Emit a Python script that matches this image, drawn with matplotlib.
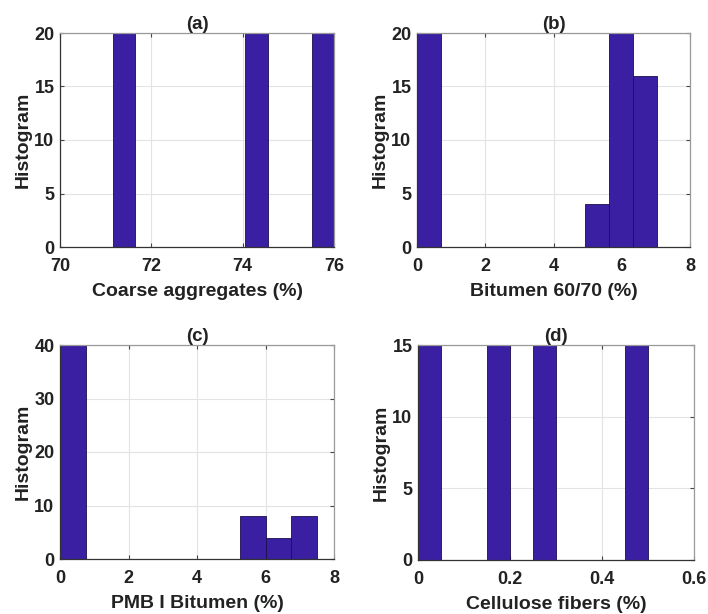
import numpy as np
import matplotlib
matplotlib.use("Agg")
import matplotlib.pyplot as plt

plt.rcParams['font.family'] = ['Liberation Sans', 'DejaVu Sans']
plt.rcParams['font.weight'] = 'bold'

# histogram bins: (first edge, bin width), counts per bin (10 bins each)
coarse_start, coarse_width = 71.17, 0.482
coarse_counts = [20, 0, 0, 0, 0, 0, 20, 0, 0, 20]

bit6070_start, bit6070_width = 0.0, 0.702
bit6070_counts = [20, 0, 0, 0, 0, 0, 0, 4, 20, 16]

pmb_start, pmb_width = 0.0, 0.75
pmb_counts = [40, 0, 0, 0, 0, 0, 0, 8, 4, 8]

cell_start, cell_width = 0.0, 0.05
cell_counts = [15, 0, 0, 15, 0, 15, 0, 0, 0, 15]

panels = [
    ('(a)', 'Coarse aggregates (%)', coarse_start, coarse_width, coarse_counts,
     (70, 76), [70, 72, 74, 76], ['70', '72', '74', '76'], (0, 20), [0, 5, 10, 15, 20]),
    ('(b)', 'Bitumen 60/70 (%)', bit6070_start, bit6070_width, bit6070_counts,
     (0, 8), [0, 2, 4, 6, 8], ['0', '2', '4', '6', '8'], (0, 20), [0, 5, 10, 15, 20]),
    ('(c)', 'PMB I Bitumen (%)', pmb_start, pmb_width, pmb_counts,
     (0, 8), [0, 2, 4, 6, 8], ['0', '2', '4', '6', '8'], (0, 40), [0, 10, 20, 30, 40]),
    ('(d)', 'Cellulose fibers (%)', cell_start, cell_width, cell_counts,
     (0, 0.6), [0, 0.2, 0.4, 0.6], ['0', '0.2', '0.4', '0.6'], (0, 15), [0, 5, 10, 15]),
]

W, H = 708, 614
# axes boxes in pixels: left, right, top, bottom
boxes = [(60, 334, 33, 247), (417, 690, 33, 247),
         (60, 334, 345, 559), (418, 694, 345, 560)]

fig = plt.figure(figsize=(W / 100, H / 100), dpi=100)

for (title, xlabel, start, width, counts, xlim, xticks, xtl, ylim, yticks), (l, r, t, b) in zip(panels, boxes):
    ax = fig.add_axes([l / W, 1 - b / H, (r - l) / W, (b - t) / H])
    edges = start + width * np.arange(len(counts) + 1)
    ax.hist(edges[:-1], bins=edges, weights=counts, color='#3b1fa3',
            edgecolor='#1c0f50', linewidth=0.6, zorder=2)
    ax.set_xlim(*xlim)
    ax.set_ylim(*ylim)
    ax.set_xticks(xticks)
    ax.set_xticklabels(xtl)
    ax.set_yticks(yticks)
    ax.grid(True, color='#e3e3e3', linewidth=0.8, zorder=0)
    ax.set_axisbelow(True)
    ax.tick_params(direction='in', length=3, width=0.8, labelsize=13,
                   top=True, right=True, color='#444444')
    ax.tick_params(axis='x', pad=8)
    ax.tick_params(axis='y', pad=4)
    for lab in ax.get_xticklabels() + ax.get_yticklabels():
        lab.set_fontweight('bold')
        lab.set_color('#222222')
    for side in ['left', 'bottom']:
        ax.spines[side].set_color('#333333')
        ax.spines[side].set_linewidth(0.9)
    for side in ['top', 'right']:
        ax.spines[side].set_color('#999999')
        ax.spines[side].set_linewidth(0.9)
    ax.set_title(title, fontsize=13.5, fontweight='bold', color='#222222', pad=3)
    ax.set_xlabel(xlabel, fontsize=14, fontweight='bold', color='#222222', labelpad=6)
    ax.set_ylabel('Histogram', fontsize=14, fontweight='bold', color='#222222', labelpad=2)

fig.savefig('out.png', dpi=100)
